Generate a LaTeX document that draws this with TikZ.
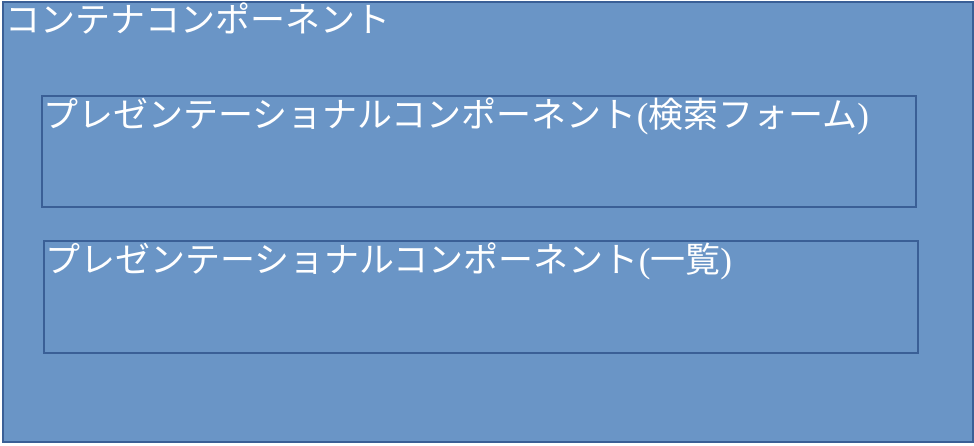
\documentclass[tikz,border=0pt]{standalone}
\usepackage{fontspec}
\usepackage{tikz}
\usetikzlibrary{positioning}
\setmainfont{Liberation Serif}
\newfontfamily\jpfont{Noto Sans CJK JP}
\definecolor{boxfill}{RGB}{106,149,198}
\definecolor{boxline}{RGB}{58,95,150}

\begin{document}
\begin{tikzpicture}[
        x=1pt, y=1pt,
        box/.style={draw=boxline, fill=boxfill, line width=2pt, inner sep=0pt},
        caption/.style={anchor=north west, inner sep=0pt, text=white,
            font=\fontsize{35}{35}\selectfont}
    ]
        \useasboundingbox (0,0) rectangle (974,446);
        \node[box, anchor=south west, minimum width=970pt, minimum height=440pt] (container) at (2,3) {};
        \node[box, anchor=south west, minimum width=874pt, minimum height=111pt] (search) at (41,238) {};
        \node[box, anchor=south west, minimum width=874pt, minimum height=112pt] (list) at (43,92) {};

        \node[caption, below right=2pt and 3pt of container.north west] (containerlabel)
            {\jpfont コンテナコンポーネント};
        \node[caption, below right=3pt and 2pt of search.north west] (searchlabel)
            {{\jpfont プレゼンテーショナルコンポーネント}({\jpfont 検索フォーム})};
        \node[caption, below right=3pt and 2pt of list.north west] (listlabel)
            {{\jpfont プレゼンテーショナルコンポーネント}({\jpfont 一覧})};
    \end{tikzpicture}
\end{document}
